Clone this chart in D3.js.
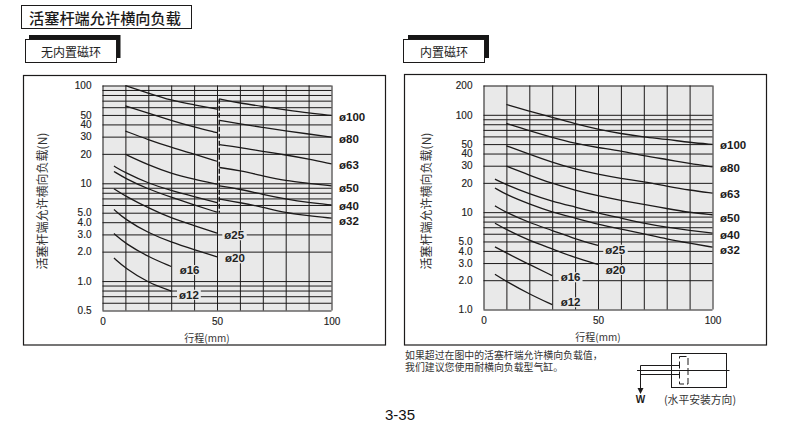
<!DOCTYPE html>
<html><head><meta charset="utf-8">
<script src="https://cdn.jsdelivr.net/npm/d3@7/dist/d3.min.js"></script>
<style>html,body{margin:0;padding:0;background:#fff}svg{display:block}</style>
</head><body><svg id="c" width="790" height="426"></svg>
<script>
// ---------- data ----------
const strokeA = [10,20,30,40,50];
const strokeB = [51,60,70,80,90,100];
const strokeS = [5,10,20,30,40,50];
const strokeT = [5,10,20,30];
const strokeR = [10,20,30,40,50,60,70,80,90,100];
const strokeQ = [5,10,20,30,40,50,60,70,80,90,100];

// no built-in magnet
const L100a=[100,83.5,70.3,63.5,57.3], L100b=[73,66,61,56.4,52.2,49.4];
const L80a=[62,52.2,44,37.6,32.9],     L80b=[44,40.6,37.2,34.4,31.9,29.7];
const L63a=[34.2,27.9,23.3,19.9,16.8], L63b=[24.8,23.3,21.2,19.5,17.7,15.8];
const L50a=[19.8,15.4,12.6,11,9.8],    L50b=[14.5,13.5,11.9,10.6,10,9.4];
const L40a=[15,12.8,10,8.4,7.3,6.35],  L40b=[9.4,8.7,7.7,6.9,6.35,6.0];
const L32a=[13.2,11.2,8.7,7.2,6,5.06], L32b=[6.9,6.35,5.7,5.0,4.65,4.4];
const L25=[8.8,7.4,5.6,4.4,3.7,3.1];
const L20=[5.4,4.26,3.1,2.5,2.1,1.77];
const L16=[3.06,2.42,1.77,1.41];
const L12=[1.72,1.35,0.96,0.79];

// built-in magnet
const R100=[127.6,109,94,81,71,64,59,56,52,49.6];
const R80=[81.5,68.5,58.5,50.7,46,42.6,37.9,34.8,31.6,29.2];
const R63=[48,39.4,32.4,27.6,24.5,22.2,20.5,18.5,16.8,15.7];
const R50=[29.7,24,19.7,16.8,14.7,13.2,12,10.9,9.9,9.4];
const R40=[21.8,19.1,15.4,12.9,11.3,9.8,8.7,7.7,7.0,6.5,6.1];
const R32=[17.7,15.1,12.1,10,8.7,7.5,6.7,6.0,5.3,4.8,4.37];
const R25=[11.6,9.9,7.8,6.5,5.3,4.55];
const R20=[7.7,6.6,5.1,4.2,3.4,2.9];
const R16=[4.4,3.8,2.9,2.23];
const R12=[2.3,1.94,1.44,1.12];

const xGrid=[0,10,20,30,40,50,60,70,80,90,100];
const xLabels=[0,50,100];
const gridL=[100,90,80,70,60,50,40,30,20,10,9,8,7,6,5,4,3,2,1,.9,.8,.7,.6,.5];
const gridR=[200,100,90,80,70,60,50,40,30,20,10,9,8,7,6,5,4,3,2,1];
const yLabels=new Map([[200,"200"],[100,"100"],[50,"50"],[40,"40"],[30,"30"],[20,"20"],[10,"10"],[5,"5.0"],[4,"4.0"],[3,"3.0"],[2,"2.0"],[1,"1.0"],[.5,"0.5"]]);
const legendNames=["ø100","ø80","ø63","ø50","ø40","ø32"];
const innerNames=["ø25","ø20","ø16","ø12"];
const titleText="活塞杆端允许横向负载";
const subLeft="无内置磁环", subRight="内置磁环";
const yTitle="活塞杆端允许横向负载(N)", xTitle="行程(mm)";
const noteLines=["如果超过在图中的活塞杆端允许横向负载值，","我们建议您使用耐横向负载型气缸。"];
const mountText="(水平安装方向)", forceText="W", pageNo="3-35";

// ---------- drawing ----------
const INK="#1c1a1a", GREY="#e9e9e9";
const CJK='"Noto Sans CJK SC","Noto Sans",sans-serif', LAT='"Liberation Sans",Arial,sans-serif';
const svg=d3.select("#c");

function box(x,y,w,h,fill,stroke,sw){svg.append("rect").attr("x",x).attr("y",y).attr("width",w).attr("height",h)
  .attr("fill",fill).attr("stroke",stroke||"none").attr("stroke-width",sw||0);}
function text(s,x,y,o={}){return (o.parent||svg).append("text").attr("x",x).attr("y",y).text(s)
  .attr("dominant-baseline","central").attr("text-anchor",o.anchor||"start")
  .attr("font-family",o.font||LAT).attr("font-size",o.size||10).attr("font-weight",o.weight||400)
  .attr("fill",o.fill||INK).attr("transform",o.rotate?`rotate(-90 ${x} ${y})`:null);}

// page heading
box(21.5,5.5,170,23,"#fff",INK,1);
text(titleText,29,17,{font:CJK,size:15.2,weight:500});

function panel(cfg){
  box(cfg.shadow[0],cfg.shadow[1],cfg.shadow[2],cfg.shadow[3],"#161616");
  box(cfg.sub[0],cfg.sub[1],cfg.sub[2],cfg.sub[3],"#fff",INK,1);
  text(cfg.subText,cfg.sub[0]+cfg.sub[2]/2,cfg.sub[1]+cfg.sub[3]/2,{font:CJK,size:12,anchor:"middle",fill:"#222"});
  box(cfg.frame[0],cfg.frame[1],cfg.frame[2],cfg.frame[3],"#fff",INK,1.2);

  const x=d3.scaleLinear().domain([0,100]).range(cfg.xr);
  const y=d3.scaleLog().domain(cfg.yd).range(cfg.yr);
  const W=cfg.xr[1]-cfg.xr[0], H=cfg.yr[0]-cfg.yr[1];
  box(cfg.xr[0],cfg.yr[1],W,H,GREY);

  const ax=svg.append("g").attr("transform",`translate(0,${cfg.yr[0]})`)
    .call(d3.axisBottom(x).tickValues(xGrid).tickSize(-H).tickPadding(6).tickFormat(d=>xLabels.includes(d)?d:""));
  const ay=svg.append("g").attr("transform",`translate(${cfg.xr[0]},0)`)
    .call(d3.axisLeft(y).tickValues(cfg.grid).tickSize(-W).tickPadding(11).tickFormat(d=>yLabels.get(d)||""));
  [ax,ay].forEach(g=>{
    g.select(".domain").remove();
    g.selectAll("line").attr("stroke",INK).attr("stroke-width",1);
    g.selectAll("text").attr("font-family",LAT).attr("font-size",10).attr("fill","#222").attr("stroke","#222").attr("stroke-width",.15);
  });
  ax.selectAll("text").attr("y",5).attr("dy","0.9em");

  if(cfg.dash){
    svg.append("line").attr("x1",x(cfg.dash[0])).attr("x2",x(cfg.dash[0]))
      .attr("y1",y(cfg.dash[1])).attr("y2",y(cfg.dash[2]))
      .attr("stroke",INK).attr("stroke-width",1.4).attr("stroke-dasharray","5 2");
  }

  const line=d3.line().x(d=>x(d[0])).y(d=>y(d[1])).curve(d3.curveBasis);
  cfg.curves.forEach(c=>{
    svg.append("path").datum(d3.zip(c[0],c[1])).attr("d",line)
      .attr("fill","none").attr("stroke",INK).attr("stroke-width",1.3);
  });

  legendNames.forEach((n,i)=>text(n,cfg.legendX,cfg.legendY[i],{size:11.5,weight:700}));
  innerNames.forEach((n,i)=>{
    const p=cfg.inner[i];
    const t=text(n,p[0],p[1],{size:11.5,weight:700,fill:"#222"});
    const b=t.node().getBBox();
    svg.insert("rect",function(){return t.node();}).attr("x",b.x-2).attr("y",b.y+1).attr("width",b.width+4).attr("height",b.height-2).attr("fill",GREY);
  });

  text(yTitle,cfg.yTitle[0],cfg.yTitle[1],{font:CJK,size:12,anchor:"middle",rotate:true,fill:"#333"});
  text(xTitle,cfg.xTitle[0],cfg.xTitle[1],{font:CJK,size:10,anchor:"middle",fill:"#333"});
}

panel({
  shadow:[29,35,91.5,23], sub:[25.5,39.5,91,23], subText:subLeft,
  frame:[23.5,75.5,362,269.5],
  xr:[102.5,331.5], yr:[310.5,85.5], yd:[.5,100], grid:gridL,
  dash:[51,73,5],
  curves:[[strokeA,L100a],[strokeB,L100b],[strokeA,L80a],[strokeB,L80b],[strokeA,L63a],[strokeB,L63b],
          [strokeA,L50a],[strokeB,L50b],[strokeS,L40a],[strokeB,L40b],[strokeS,L32a],[strokeB,L32b],
          [strokeS,L25],[strokeS,L20],[strokeT,L16],[strokeT,L12]],
  legendX:339, legendY:[116.7,139,165,188.3,205.7,221.3],
  inner:[[224.3,235.3],[225,258.3],[179.7,270],[179,294.7]],
  yTitle:[41.5,201], xTitle:[207,337.5]
});

panel({
  shadow:[408,35,81,23], sub:[403.5,39.5,81,23], subText:subRight,
  frame:[404.5,74.5,362,270.5],
  xr:[483.5,712.5], yr:[309.5,85.5], yd:[1,200], grid:gridR,
  curves:[[strokeR,R100],[strokeR,R80],[strokeR,R63],[strokeR,R50],[strokeQ,R40],[strokeQ,R32],
          [strokeS,R25],[strokeS,R20],[strokeT,R16],[strokeT,R12]],
  legendX:720, legendY:[145,167.7,193.7,217.7,234.7,250],
  inner:[[605.3,249.7],[605.7,270],[560.7,277.3],[560.7,302.3]],
  yTitle:[425,201], xTitle:[598,336]
});

// note under the right panel
noteLines.forEach((s,i)=>text(s,405,355+i*11.7,{font:CJK,size:9.9,fill:"#333"}));

// mounting diagram
box(671.5,353.5,55,34,"#fff",INK,1);
const seg=(a,b,c,d,dash)=>svg.append("line").attr("x1",a).attr("y1",b).attr("x2",c).attr("y2",d)
  .attr("stroke",INK).attr("stroke-width",1).attr("stroke-dasharray",dash||null);
seg(640.5,365.5,679,365.5); seg(640.5,374.5,679,374.5); seg(637,370.5,729.5,370.5);
seg(640.5,365.5,640.5,389);
svg.append("path").attr("d",d3.line()([[637.5,388],[643.5,388],[640.5,394]])).attr("fill",INK);
svg.append("rect").attr("x",679.5).attr("y",356.5).attr("width",8.5).attr("height",27.5)
  .attr("fill","none").attr("stroke",INK).attr("stroke-dasharray","7 3");
text(forceText,640.5,399.5,{size:10,weight:700,anchor:"middle"});
text(mountText,700,399,{font:CJK,size:10.8,anchor:"middle",fill:"#333"});

text(pageNo,400,414,{size:15,anchor:"middle",fill:"#111"});
</script></body></html>
